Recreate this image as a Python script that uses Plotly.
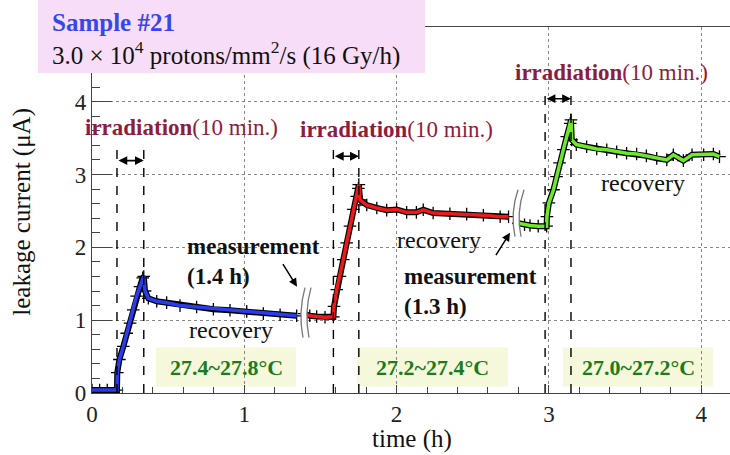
import plotly.graph_objects as go

# ---------------- data ----------------
blue_t = [0.00, 0.05, 0.10, 0.164, 0.166, 0.18, 0.206, 0.228, 0.25, 0.271, 0.293, 0.315, 0.333, 0.340,
          0.348, 0.370, 0.425, 0.49, 0.578, 0.687, 0.797, 0.906, 1.016, 1.125, 1.235, 1.344]
blue_i = [0.04, 0.04, 0.04, 0.04, 0.28, 0.46, 0.64, 0.82, 0.96, 1.14, 1.33, 1.46, 1.58, 1.60,
          1.40, 1.30, 1.26, 1.24, 1.20, 1.18, 1.15, 1.135, 1.12, 1.09, 1.075, 1.06]

red_t = [1.392, 1.43, 1.475, 1.53, 1.585, 1.589, 1.607, 1.628, 1.65, 1.672, 1.694, 1.716, 1.738, 1.749, 1.752,
         1.760, 1.804, 1.87, 1.935, 2.00, 2.066, 2.13, 2.175, 2.24, 2.35, 2.46, 2.57, 2.68, 2.735]
red_i = [1.09, 1.06, 1.05, 1.04, 1.045, 1.19, 1.42, 1.60, 1.83, 2.06, 2.29, 2.52, 2.70, 2.81, 2.86,
         2.65, 2.58, 2.54, 2.51, 2.52, 2.48, 2.48, 2.515, 2.47, 2.46, 2.456, 2.44, 2.42, 2.42]

green_t = [2.80, 2.84, 2.876, 2.93, 2.985, 2.987, 3.00, 3.03, 3.05, 3.07, 3.095, 3.117, 3.14, 3.145,
           3.15, 3.18, 3.248, 3.314, 3.38, 3.445, 3.51, 3.576, 3.64, 3.708, 3.774, 3.817, 3.883, 3.94,
           4.016, 4.08, 4.12]
green_i = [2.33, 2.31, 2.30, 2.29, 2.29, 2.42, 2.61, 2.79, 2.97, 3.16, 3.34, 3.52, 3.70, 3.75,
           3.475, 3.41, 3.38, 3.35, 3.34, 3.31, 3.29, 3.28, 3.255, 3.22, 3.20, 3.27, 3.19, 3.27,
           3.27, 3.28, 3.245]

irr_start = [0.164, 1.585, 2.975]
irr_end = [0.340, 1.752, 3.145]
irr_arrow_level = [3.19, 3.25, 4.04]
irr_line_top = [3.37, 3.37, 4.10]

temp_labels = ["27.4~27.8°C", "27.2~27.4°C", "27.0~27.2°C"]
x_ticks = [0, 1, 2, 3, 4]
y_ticks = [0, 1, 2, 3, 4]

# ---------------- layout geometry helpers (decoration only) ----------------
X0PIX, XSCALE = 92.0, 152.3
Y0PIX, YSCALE = 393.5, 72.95
PW, PH = 638.0, 366.5


def dx(px):
    return (px - X0PIX) / XSCALE


def dy(py):
    return (Y0PIX - py) / YSCALE


def pxp(px):
    return (px - 92) / PW


def pyp(py):
    return (393.5 - py) / PH


SERIF = "Liberation Serif"

fig = go.Figure()

series = [(blue_t, blue_i, "#2a3cf0"), (red_t, red_i, "#f01818"), (green_t, green_i, "#6ee82a")]
for t, i, col in series:
    fig.add_trace(go.Scatter(x=t, y=i, mode="lines+markers",
                             line=dict(color="black", width=6),
                             marker=dict(symbol="cross-thin", size=9, line=dict(color="black", width=1.3)),
                             hoverinfo="skip", showlegend=False))
    fig.add_trace(go.Scatter(x=t, y=i, mode="lines",
                             line=dict(color=col, width=3.5),
                             showlegend=False))

shapes = []
annotations = []


def label(px, py, text, size, color="#111", xanchor="center", align="center", angle=0):
    annotations.append(dict(x=pxp(px), y=pyp(py), xref="paper", yref="paper", xanchor=xanchor,
                            yanchor="middle", align=align, text=text, showarrow=False, textangle=angle,
                            font=dict(family=SERIF, size=size, color=color)))


# irradiation dashed lines + double arrows + labels
irr_label_pos = [(83, 128), (298, 130), (513, 73)]
for k in range(3):
    for xv in (irr_start[k], irr_end[k]):
        shapes.append(dict(type="line", xref="x", yref="y", x0=xv, x1=xv, y0=0, y1=irr_line_top[k],
                           line=dict(color="black", width=1.4, dash="dash"), layer="above"))
    annotations.append(dict(x=irr_end[k], y=irr_arrow_level[k], ax=irr_start[k], ay=irr_arrow_level[k],
                            xref="x", yref="y", axref="x", ayref="y", text="", showarrow=True,
                            arrowhead=2, arrowside="end+start", arrowsize=1.1, arrowwidth=1.6,
                            arrowcolor="black"))
    px, py = irr_label_pos[k]
    label(px, py, "<b>irradiation</b>(10 min.)", 23, "#8e1c40", xanchor="left", align="left")

# temperature boxes
temp_boxes = [(156, 296), (357, 508), (563, 713)]
for (a, b), lab in zip(temp_boxes, temp_labels):
    shapes.append(dict(type="rect", xref="x", yref="y", x0=dx(a), x1=dx(b), y0=dy(387), y1=dy(348),
                       fillcolor="#f5f8da", line=dict(width=0), layer="below"))
    label((a + b) / 2, 367.5, "<b>" + lab + "</b>", 22, "#1c7c1c")

# recovery labels
for px, py in [(231, 330), (439, 240), (643, 183)]:
    label(px, py, "recovery", 24)

# measurement labels
label(185, 262, "<b>measurement<br>(1.4 h)</b>", 23, xanchor="left", align="left")
label(402, 292, "<b>measurement<br>(1.3 h)</b>", 23, xanchor="left", align="left")
annotations.append(dict(x=dx(297), y=dy(287), xref="x", yref="y", ax=-15, ay=-24, text="",
                        showarrow=True, arrowhead=2, arrowsize=1.1, arrowwidth=1.5, arrowcolor="black"))
annotations.append(dict(x=dx(510), y=dy(233), xref="x", yref="y", ax=-15, ay=24, text="",
                        showarrow=True, arrowhead=2, arrowsize=1.1, arrowwidth=1.5, arrowcolor="black"))

# axis break symbols "(("
for (tx, ty), (mx, my), (bx, by) in [((305, 288), (298, 313), (303, 338)),
                                      ((518, 190), (510, 213), (515, 237))]:
    off = 6
    path = (f"M {dx(tx)},{dy(ty)} Q {dx(mx)},{dy(my)} {dx(bx)},{dy(by)} "
            f"L {dx(bx + off)},{dy(by)} Q {dx(mx + off)},{dy(my)} {dx(tx + off)},{dy(ty)} Z")
    shapes.append(dict(type="path", xref="x", yref="y", path=path, fillcolor="white",
                       line=dict(width=0), layer="above"))
    for o in (0, off):
        p = f"M {dx(tx + o)},{dy(ty)} Q {dx(mx + o)},{dy(my)} {dx(bx + o)},{dy(by)}"
        shapes.append(dict(type="path", xref="x", yref="y", path=p,
                           line=dict(color="#777", width=1.3), layer="above"))

# title box
shapes.append(dict(type="rect", xref="paper", yref="paper", x0=pxp(38), x1=pxp(425), y0=pyp(73), y1=pyp(0),
                   fillcolor="#f7ddf7", line=dict(width=0), layer="above"))
label(50, 22, "<b>Sample #21</b>", 25, "#3446ee", xanchor="left", align="left")
label(50, 54, "3.0 × 10<sup>4</sup> protons/mm<sup>2</sup>/s (16 Gy/h)", 25, xanchor="left", align="left")

# axis titles
label(22, 212, "leakage current (μA)", 25, angle=-90)
label(412, 440, "time (h)", 25)

fig.update_layout(
    width=730, height=455,
    margin=dict(l=92, r=0, t=27, b=61.5),
    paper_bgcolor="white", plot_bgcolor="white",
    shapes=shapes, annotations=annotations,
    xaxis=dict(range=[0, (730 - 92) / XSCALE], tickvals=x_ticks, ticktext=[str(v) for v in x_ticks],
               showline=True, linecolor="#444", linewidth=1.3, mirror=True,
               ticks="inside", ticklen=8, tickcolor="#444", tickwidth=1.3,
               showgrid=True, gridcolor="#888", griddash="dot", gridwidth=1,
               zeroline=False, tickfont=dict(family=SERIF, size=23, color="#222"),
               minor=dict(dtick=0.2, ticks="inside", ticklen=6, tickcolor="#444", showgrid=False)),
    yaxis=dict(range=[0, (393.5 - 27) / YSCALE], tickvals=y_ticks, ticktext=[str(v) for v in y_ticks],
               showline=True, linecolor="#444", linewidth=1.3, mirror=False,
               ticks="inside", ticklen=20, tickcolor="#444", tickwidth=1.3,
               showgrid=True, gridcolor="#888", griddash="dot", gridwidth=1,
               zeroline=False, tickfont=dict(family=SERIF, size=23, color="#222"),
               minor=dict(dtick=0.2, ticks="inside", ticklen=8, tickcolor="#444", showgrid=False)),
)

fig.write_html("out.html")
